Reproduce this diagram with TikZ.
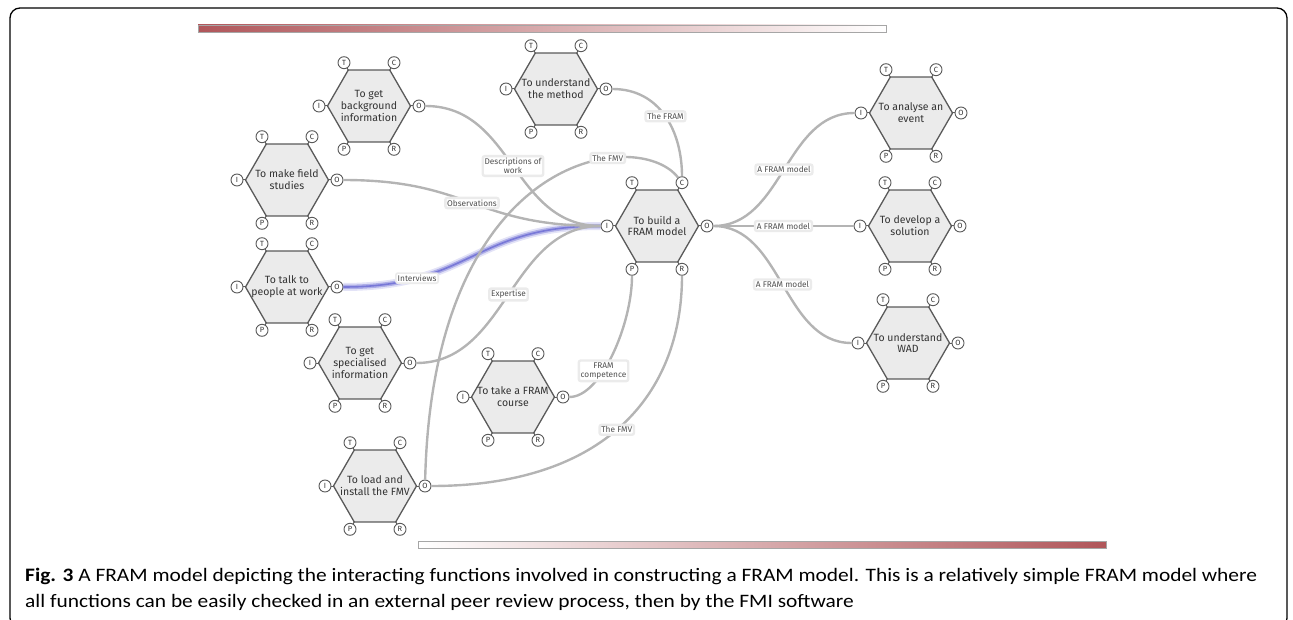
\documentclass[tikz,border=0pt]{standalone}
\usepackage{fontspec}
\setmainfont{Fira Sans}
\newfontfamily\capfont{Carlito}
\usetikzlibrary{shapes.geometric,calc,backgrounds}

\definecolor{hexfill}{HTML}{EBEBEB}
\definecolor{hexline}{HTML}{5A5A5A}
\definecolor{flowgray}{HTML}{B4B4B4}
\definecolor{labeltext}{HTML}{505050}
\definecolor{barred}{RGB}{176,86,90}
\definecolor{glowblue}{RGB}{120,120,215}
\definecolor{captext}{HTML}{2B2B2B}

\newsavebox\caplineA
\newsavebox\caplineB
\newlength\caplen

\tikzset{
  fnhex/.style={regular polygon, regular polygon sides=6, minimum size=83pt,
    inner sep=0pt, outer sep=0pt, draw=hexline, fill=hexfill, line width=1.3pt},
  fntext/.style={align=center, font=\fontsize{10.5}{11.8}\selectfont,
    text=black!80, inner sep=0pt},
  port/.style={circle, draw=hexline, fill=white, line width=0.9pt,
    minimum size=12pt, inner sep=0pt, font=\fontsize{7.5}{7.5}\selectfont, text=black!80},
  stub/.style={draw=hexline, line width=1pt},
  flow/.style={draw=flowgray, line width=2.4pt},
  flowlabel/.style={fill=white, draw=black!8, rounded corners=2pt, inner sep=1.8pt,
    font=\fontsize{8.3}{9.5}\selectfont, text=labeltext, align=center},
  bar/.style={draw=black!35, line width=0.5pt},
}

% A FRAM function: hexagon, its text and the six aspect ports
\newcommand\framfn[4]{%
  \node[fnhex] (#1) at (#2,#3) {};
  \node[fntext] (#1-text) at (#1) {#4};
  \foreach \p/\dx/\dy in {I/-50/0, O/50/0, T/-25/-43.3, C/25/-43.3, P/-25/43.3, R/25/43.3}{
    \draw[stub] ($(#1)+(0.82*\dx,0.82*\dy)$) -- ($(#1)+(\dx,\dy)$);
    \node[port] (#1-\p) at ($(#1)+(\dx,\dy)$) {\p};
  }%
}

\begin{document}
% caption lines, stretched to a common column width
\sbox\caplineA{\capfont\fontsize{19}{19}\selectfont\textbf{Fig. 3} A FRAM model depicting the interacting functions involved in constructing a FRAM model. This is a relatively simple FRAM model where}%
\sbox\caplineB{\capfont\fontsize{19}{19}\selectfont all functions can be easily checked in an external peer review process, then by the FMI software}%
\setlength\caplen{\wd\caplineA}%
\pgfmathsetmacro\capsx{1232/\caplen}%
\begin{tikzpicture}[x=1pt,y=-1pt]
\useasboundingbox (0,0) rectangle (1293,620);

% frame and decorative bars
\draw[line width=1.3pt, rounded corners=10pt] (10,8) rectangle (1287,628);
\shade[left color=barred, right color=white] (198,25) rectangle (886,32);
\draw[bar] (198,25) rectangle (886,32);
\shade[left color=white, right color=barred] (418,541.5) rectangle (1106,548.5);
\draw[bar] (418,541.5) rectangle (1106,548.5);

% functions
\framfn{bg}{369}{106}{To get\\background\\information}
\framfn{field}{287}{180}{To make field\\studies}
\framfn{talk}{287}{287}{To talk to\\people at work}
\framfn{spec}{360}{363}{To get\\specialised\\information}
\framfn{course}{513}{397}{To take a FRAM\\course}
\framfn{load}{375}{486}{To load and\\install the FMV}
\framfn{method}{556}{89}{To understand\\the method}
\framfn{build}{657}{226}{To build a\\FRAM model}
\framfn{analyse}{911}{113}{To analyse an\\event}
\framfn{develop}{910}{226}{To develop a\\solution}
\framfn{wad}{908}{343}{To understand\\WAD}

% couplings
\begin{pgfonlayer}{background}
\draw[glowblue!35, line width=8pt, opacity=0.6]
  (talk-O) .. controls +(134,0) and +(-134,0) .. (build-I);
\draw[glowblue!60, line width=4.5pt]
  (talk-O) .. controls +(134,0) and +(-134,0) .. (build-I);
\end{pgfonlayer}
\draw[glowblue, line width=1.6pt]
  (talk-O) .. controls +(134,0) and +(-134,0) .. (build-I)
  node[flowlabel, pos=0.24] (lbl-int) {Interviews};

\draw[flow] (bg-O) .. controls +(95,0) and +(-95,0) .. (build-I)
  node[flowlabel, pos=0.5] (lbl-desc) {Descriptions of\\work};
\draw[flow] (field-O) .. controls +(134,0) and +(-134,0) .. (build-I)
  node[flowlabel, pos=0.5] (lbl-obs) {Observations};
\draw[flow] (spec-O) .. controls +(97,0) and +(-97,0) .. (build-I)
  node[flowlabel, pos=0.5] (lbl-exp) {Expertise};
\draw[flow] (method-O) .. controls +(55,0) and +(0,-50) .. (build-C)
  node[flowlabel, pos=0.5] (lbl-fram) {The FRAM};
\draw[flow] (load-O) .. controls +(8,-336) and +(-43,-56) .. (build-C)
  node[flowlabel, pos=0.7] (lbl-fmv1) {The FMV};
\draw[flow] (course-O) .. controls +(38,0) and +(0,55) .. (build-P)
  node[flowlabel, pos=0.38] (lbl-comp) {FRAM\\competence};
\draw[flow] (load-O) .. controls +(180,0) and +(0,125) .. (build-R)
  node[flowlabel, pos=0.48] (lbl-fmv2) {The FMV};

\draw[flow] (build-O) .. controls +(76,0) and +(-76,0) .. (analyse-I)
  node[flowlabel, pos=0.5] (lbl-m1) {A FRAM model};
\draw[flow] (build-O) -- (develop-I)
  node[flowlabel, pos=0.5] (lbl-m2) {A FRAM model};
\draw[flow] (build-O) .. controls +(75,0) and +(-75,0) .. (wad-I)
  node[flowlabel, pos=0.5] (lbl-m3) {A FRAM model};

% caption
\node[anchor=base west, inner sep=0pt, text=captext] (cap1) at (25,581) {\scalebox{\capsx}[1]{\usebox\caplineA}};
\node[anchor=base west, inner sep=0pt, text=captext] (cap2) at (25,607) {\scalebox{\capsx}[1]{\usebox\caplineB}};
\end{tikzpicture}
\end{document}
